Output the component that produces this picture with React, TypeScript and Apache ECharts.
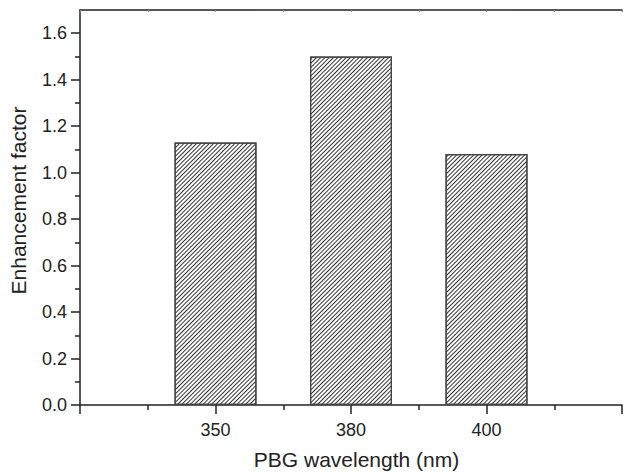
import React, { useEffect, useRef } from "react";
import * as echarts from "echarts";

const categories = ["350", "380", "400"];
const positions = [1, 2, 3];
const values = [1.13, 1.5, 1.08];
const yMajorTicks = [0, 0.2, 0.4, 0.6, 0.8, 1.0, 1.2, 1.4, 1.6];
const yMinorTicks = [0.1, 0.3, 0.5, 0.7, 0.9, 1.1, 1.3, 1.5];
const xTitle = "PBG wavelength (nm)";
const yTitle = "Enhancement factor";

const FONT = "'Liberation Sans', Arial, Helvetica, sans-serif";
const INK = "#222";

export default function App() {
  const ref = useRef<HTMLDivElement>(null);
  useEffect(() => {
    const chart = echarts.init(ref.current!, null, { renderer: "svg" });
    const labelMap: Record<number, string> = {};
    positions.forEach((p, i) => (labelMap[p] = categories[i]));
    chart.setOption({
      animation: false,
      backgroundColor: "#fff",
      textStyle: { fontFamily: FONT },
      grid: { left: 80, top: 10, width: 548, height: 399, containLabel: false },
      xAxis: [
        {
          type: "value",
          position: "bottom",
          min: 0,
          max: 4,
          interval: 1,
          name: xTitle,
          nameLocation: "middle",
          nameGap: 44,
          nameTextStyle: { fontSize: 21, color: INK, fontFamily: FONT, padding: [0, 0, 0, 11] },
          axisLine: { show: true, lineStyle: { color: INK, width: 1.5 } },
          axisTick: { show: true, inside: false, length: 9, lineStyle: { color: INK, width: 1.5 } },
          minorTick: { show: true, splitNumber: 2, length: 5, lineStyle: { color: INK, width: 1.5 } },
          axisLabel: {
            fontSize: 18,
            color: INK,
            margin: 16,
            fontFamily: FONT,
            formatter: (v: number) => labelMap[v] ?? "",
          },
          splitLine: { show: false },
        },
        {
          type: "value",
          position: "top",
          min: 0,
          max: 4,
          interval: 1,
          axisLine: { show: true, onZero: false, lineStyle: { color: INK, width: 1.5 } },
          axisTick: { show: true, inside: true, length: 2, lineStyle: { color: "#888", width: 1 } },
          minorTick: { show: true, splitNumber: 2, length: 2, lineStyle: { color: "#888", width: 1 } },
          axisLabel: { show: false },
          splitLine: { show: false },
        },
      ],
      yAxis: [
        {
          type: "value",
          min: 0,
          max: 1.7,
          name: yTitle,
          nameLocation: "middle",
          nameGap: 51,
          nameRotate: 90,
          nameTextStyle: { fontSize: 21, color: INK, fontFamily: FONT, padding: [0, 0, 0, 14] },
          axisLine: { show: true, lineStyle: { color: INK, width: 1.5 } },
          axisTick: { show: true, inside: false, length: 9, customValues: yMajorTicks, lineStyle: { color: INK, width: 1.5 } },
          axisLabel: {
            fontSize: 18,
            color: INK,
            margin: 13,
            fontFamily: FONT,
            customValues: yMajorTicks,
            formatter: (v: number) => v.toFixed(1),
          },
          splitLine: { show: false },
        },
        {
          type: "value",
          min: 0,
          max: 1.7,
          position: "left",
          axisLine: { show: false },
          axisTick: { show: true, inside: false, length: 5, customValues: yMinorTicks, lineStyle: { color: INK, width: 1.5 } },
          axisLabel: { show: false, customValues: yMinorTicks },
          splitLine: { show: false },
        },
      ],
      series: [
        {
          type: "bar",
          xAxisIndex: 0,
          yAxisIndex: 0,
          barWidth: 82,
          data: positions.map((p, i) => [p, values[i]]),
          itemStyle: {
            color: "#fff",
            borderColor: "#444",
            borderWidth: 1.2,
            decal: {
              symbol: "rect",
              symbolSize: 1,
              dashArrayX: [1, 0],
              dashArrayY: [1, 1.5],
              rotation: -Math.PI / 4,
              color: "#333",
            },
          },
        },
      ],
    });
    return () => chart.dispose();
  }, []);
  return (
    <div
      ref={ref}
      style={{ position: "fixed", left: 0, top: 0, width: 625, height: 475, background: "#fff" }}
    />
  );
}
